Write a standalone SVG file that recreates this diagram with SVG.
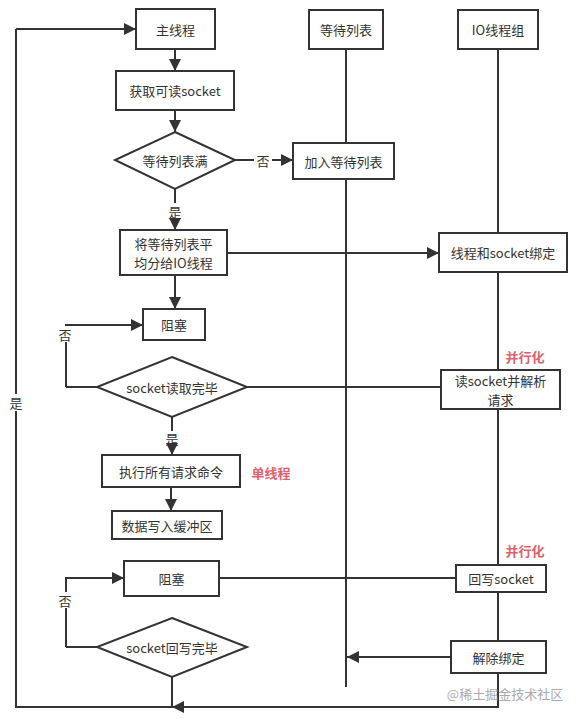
<svg xmlns="http://www.w3.org/2000/svg" width="576" height="718" viewBox="0 0 576 718">
<defs>
<style>
.box{fill:#fff;stroke:#333;stroke-width:2}
.ln{fill:none;stroke:#333;stroke-width:2}
.ar{fill:none;stroke:#333;stroke-width:2;marker-end:url(#arr)}
.t{font-family:"Noto Sans CJK SC","Liberation Sans",sans-serif;font-size:13px;fill:#333;text-anchor:middle;dominant-baseline:central}
.red{font-family:"Noto Sans CJK SC","Liberation Sans",sans-serif;font-size:13px;font-weight:bold;fill:#e0606a;text-anchor:middle;dominant-baseline:central}
.wm{font-family:"Noto Sans CJK SC","Liberation Sans",sans-serif;font-size:13px;fill:#aaa;text-anchor:middle;dominant-baseline:central}
</style>
<marker id="arr" viewBox="0 0 12 12" refX="12" refY="6" markerWidth="12" markerHeight="12" markerUnits="userSpaceOnUse" orient="auto">
<path d="M0,0 L12,6 L0,12 z" fill="#333"/>
</marker>
</defs>

<g id="connectors">
<path class="ln" d="M346,49 V143 M346,179 V687"/>
<path class="ln" d="M498,49 V233 M498,272 V370 M498,409 V565 M498,592 V641 M498,673 V707 H16 V29"/>
<path class="ar" d="M16,29 H136"/>
<path class="ar" d="M175,49 V71"/>
<path class="ar" d="M175,110 V132"/>
<path class="ar" d="M235,160 H293"/>
<path class="ln" d="M175,189 V203"/>
<path class="ar" d="M175,219 V230"/>
<path class="ar" d="M227,253 H439"/>
<path class="ar" d="M175,275 V309"/>
<path class="ar" d="M66,387 V325 H143"/>
<path class="ln" d="M66,387 H97"/>
<path class="ln" d="M247,387 H441"/>
<path class="ln" d="M172,417 V431"/>
<path class="ar" d="M172,445 V455"/>
<path class="ar" d="M171,487 V511"/>
<path class="ar" d="M66,647 V578 H124"/>
<path class="ln" d="M66,647 H97"/>
<path class="ln" d="M219,578 H456"/>
<path class="ar" d="M451,657 H347"/>
<path class="ln" d="M172,677 V707"/>
<path class="ar" d="M190,707 H172"/>
</g>

<g id="n-main"><rect class="box" x="136" y="9" width="79" height="40"/><text class="t" x="175.5" y="29">主线程</text></g>
<g id="n-waitlist"><rect class="box" x="309" y="10" width="74" height="39"/><text class="t" x="346" y="29.5">等待列表</text></g>
<g id="n-iogroup"><rect class="box" x="458" y="10" width="80" height="39"/><text class="t" x="498" y="29.5">IO线程组</text></g>
<g id="n-getsock"><rect class="box" x="116" y="71" width="118" height="39"/><text class="t" x="175" y="90.5">获取可读socket</text></g>
<g id="n-full"><path class="box" d="M175,132 L235,160 L175,189 L115,160 z"/><text class="t" x="175" y="160">等待列表满</text></g>
<g id="n-add"><rect class="box" x="293" y="143" width="101" height="36"/><text class="t" x="343.5" y="161">加入等待列表</text></g>
<g id="n-split"><rect class="box" x="120" y="230" width="107" height="45"/><text class="t" x="173.5" y="243.5">将等待列表平</text><text class="t" x="173.5" y="262">均分给IO线程</text></g>
<g id="n-bind"><rect class="box" x="439" y="233" width="128" height="39"/><text class="t" x="503" y="252.5">线程和socket绑定</text></g>
<g id="n-block1"><rect class="box" x="143" y="309" width="62" height="31"/><text class="t" x="174" y="324.5">阻塞</text></g>
<g id="n-readdone"><path class="box" d="M172,357 L247,387 L172,417 L97,387 z"/><text class="t" x="172" y="387">socket读取完毕</text></g>
<g id="n-readparse"><rect class="box" x="441" y="370" width="119" height="39"/><text class="t" x="500.5" y="380.5">读socket并解析</text><text class="t" x="500.5" y="399">请求</text></g>
<g id="n-exec"><rect class="box" x="102" y="455" width="138" height="32"/><text class="t" x="171" y="471">执行所有请求命令</text></g>
<g id="n-buf"><rect class="box" x="112" y="511" width="110" height="28"/><text class="t" x="167" y="525">数据写入缓冲区</text></g>
<g id="n-block2"><rect class="box" x="124" y="561" width="95" height="35"/><text class="t" x="171.5" y="578.5">阻塞</text></g>
<g id="n-writedone"><path class="box" d="M172,618 L247,647 L172,677 L97,647 z"/><text class="t" x="172" y="647">socket回写完毕</text></g>
<g id="n-write"><rect class="box" x="456" y="565" width="90" height="27"/><text class="t" x="501" y="578.5">回写socket</text></g>
<g id="n-unbind"><rect class="box" x="451" y="641" width="95" height="32"/><text class="t" x="498.5" y="657">解除绑定</text></g>

<g id="labels">
<rect x="254" y="152" width="18" height="16" fill="#fff"/>
<text class="t" x="263" y="160">否</text>
<text class="t" x="175" y="211">是</text>
<rect x="58" y="326" width="16" height="16" fill="#fff"/>
<text class="t" x="65" y="334">否</text>
<text class="t" x="172" y="438">是</text>
<rect x="58" y="592" width="16" height="16" fill="#fff"/>
<text class="t" x="65" y="600">否</text>
<rect x="8" y="394" width="16" height="17" fill="#fff"/>
<text class="t" x="16" y="402">是</text>
<text class="red" x="525" y="356">并行化</text>
<text class="red" x="271" y="472">单线程</text>
<text class="red" x="525" y="550">并行化</text>
<text class="wm" x="505" y="693">@稀土掘金技术社区</text>
</g>
</svg>
